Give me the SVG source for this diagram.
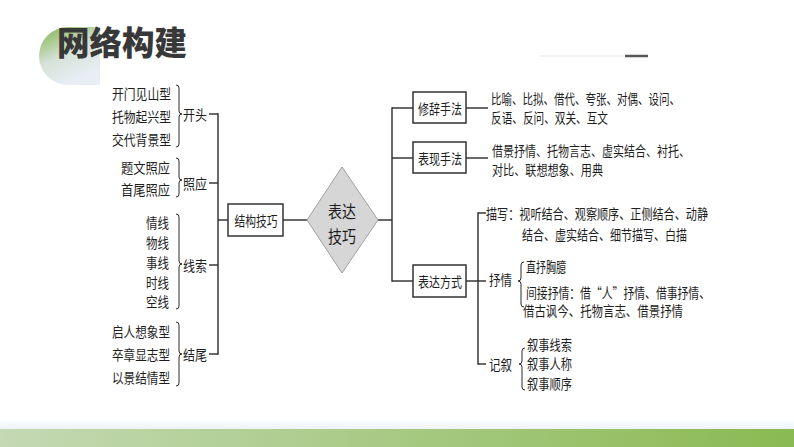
<svg xmlns="http://www.w3.org/2000/svg" width="794" height="447" viewBox="0 0 794 447">
<style>
.t{font-family:"Noto Sans CJK SC","Noto Sans",sans-serif;font-size:14px;fill:#1e1e1e;dominant-baseline:central}
.e{text-anchor:end}
.m{text-anchor:middle}
.ln{stroke:#2a2a2a;stroke-width:1.4;fill:none}
.br{stroke:#2a2a2a;stroke-width:1;fill:none}
.box{fill:#fff;stroke:#333;stroke-width:1.5}
</style>
<defs>
<linearGradient id="gBlob" x1="0" y1="0" x2="0.5" y2="1">
<stop offset="0" stop-color="#7fb24a"/>
<stop offset="0.55" stop-color="#d6e2d8"/>
<stop offset="1" stop-color="#e9eef5"/>
</linearGradient>
<linearGradient id="gBar" x1="0" y1="0" x2="1" y2="0">
<stop offset="0" stop-color="#c4d9b4"/>
<stop offset="1" stop-color="#8aba52"/>
</linearGradient>
<linearGradient id="gFade" x1="0" y1="0" x2="0" y2="1">
<stop offset="0" stop-color="#ffffff"/>
<stop offset="1" stop-color="#eef3f8"/>
</linearGradient>
</defs>
<rect width="794" height="447" fill="#fff"/>

<g id="title">
<path d="M68,27 H100 V85 H68 A29,29 0 0 1 68,27 Z" fill="url(#gBlob)"/>
<text x="57" y="41" style="font-family:'Noto Sans CJK SC',sans-serif;font-size:33px;font-weight:900;fill:#383838;dominant-baseline:central" textLength="130" lengthAdjust="spacingAndGlyphs">网络构建</text>
<line x1="540" y1="56" x2="625" y2="56" stroke="#e6e6e6" stroke-width="1"/>
<line x1="625" y1="56" x2="648" y2="56" stroke="#555" stroke-width="2.5"/>
</g>

<g id="footer">
<rect x="0" y="418" width="794" height="11" fill="url(#gFade)"/>
<rect x="0" y="429" width="794" height="18" fill="url(#gBar)"/>
</g>

<g id="connectors">
<line class="ln" x1="209" y1="114" x2="218" y2="114"/>
<line class="ln" x1="209" y1="183" x2="218" y2="183"/>
<line class="ln" x1="209" y1="265" x2="218" y2="265"/>
<line class="ln" x1="209" y1="354" x2="218" y2="354"/>
<line class="ln" x1="218" y1="113.3" x2="218" y2="354.7"/>
<line class="ln" x1="218" y1="220" x2="228" y2="220"/>
<line class="ln" x1="283" y1="220" x2="307" y2="220"/>
<line class="ln" x1="378" y1="220" x2="392" y2="220"/>
<line class="ln" x1="392" y1="107.3" x2="392" y2="281.7"/>
<line class="ln" x1="392" y1="108" x2="413" y2="108"/>
<line class="ln" x1="392" y1="158" x2="413" y2="158"/>
<line class="ln" x1="392" y1="281" x2="413" y2="281"/>
<line class="ln" x1="466" y1="108" x2="488" y2="108"/>
<line class="ln" x1="466" y1="158" x2="488" y2="158"/>
<line class="ln" x1="466" y1="281" x2="486" y2="281"/>
<line class="ln" x1="478" y1="212.3" x2="478" y2="364.7"/>
<line class="ln" x1="478" y1="213" x2="486" y2="213"/>
<line class="ln" x1="478" y1="364" x2="486" y2="364"/>
</g>

<g id="n-kaitou">
<text class="t e" x="171" y="93" textLength="59" lengthAdjust="spacingAndGlyphs">开门见山型</text>
<text class="t e" x="171" y="116" textLength="59" lengthAdjust="spacingAndGlyphs">托物起兴型</text>
<text class="t e" x="171" y="139" textLength="59" lengthAdjust="spacingAndGlyphs">交代背景型</text>
<path class="br" d="M176,85 q3,0 3,3 V111 q0,3 3,3 q-3,0 -3,3 V144 q0,3 -3,3"/>
<text class="t" x="183" y="114" textLength="24" lengthAdjust="spacingAndGlyphs">开头</text>
</g>

<g id="n-zhaoying">
<text class="t e" x="170" y="167" textLength="49" lengthAdjust="spacingAndGlyphs">题文照应</text>
<text class="t e" x="170" y="189" textLength="49" lengthAdjust="spacingAndGlyphs">首尾照应</text>
<path class="br" d="M176,158 q3,0 3,3 V177 q0,3 3,3 q-3,0 -3,3 V194 q0,3 -3,3"/>
<text class="t" x="183" y="183" textLength="24" lengthAdjust="spacingAndGlyphs">照应</text>
</g>

<g id="n-xiansuo">
<text class="t e" x="169" y="222" textLength="23" lengthAdjust="spacingAndGlyphs">情线</text>
<text class="t e" x="169" y="242" textLength="23" lengthAdjust="spacingAndGlyphs">物线</text>
<text class="t e" x="169" y="262" textLength="23" lengthAdjust="spacingAndGlyphs">事线</text>
<text class="t e" x="169" y="282" textLength="23" lengthAdjust="spacingAndGlyphs">时线</text>
<text class="t e" x="169" y="301" textLength="23" lengthAdjust="spacingAndGlyphs">空线</text>
<path class="br" d="M176,214 q3,0 3,3 V261 q0,3 3,3 q-3,0 -3,3 V306 q0,3 -3,3"/>
<text class="t" x="183" y="265" textLength="24" lengthAdjust="spacingAndGlyphs">线索</text>
</g>

<g id="n-jiewei">
<text class="t e" x="170" y="331" textLength="58" lengthAdjust="spacingAndGlyphs">启人想象型</text>
<text class="t e" x="170" y="354" textLength="58" lengthAdjust="spacingAndGlyphs">卒章显志型</text>
<text class="t e" x="170" y="377" textLength="58" lengthAdjust="spacingAndGlyphs">以景结情型</text>
<path class="br" d="M176,322 q3,0 3,3 V351 q0,3 3,3 q-3,0 -3,3 V383 q0,3 -3,3"/>
<text class="t" x="183" y="354" textLength="24" lengthAdjust="spacingAndGlyphs">结尾</text>
</g>

<g id="n-jiegou">
<rect class="box" x="228" y="204" width="55" height="32"/>
<text class="t m" x="256" y="220" textLength="43" lengthAdjust="spacingAndGlyphs">结构技巧</text>
</g>

<g id="n-center">
<polygon points="307,220 342,167 378,220 342,273" fill="#d6d6d6" stroke="#a0a0a0" stroke-width="1"/>
<text class="t m" x="342" y="210" style="font-size:17px" textLength="28" lengthAdjust="spacingAndGlyphs">表达</text>
<text class="t m" x="342" y="235" style="font-size:17px" textLength="28" lengthAdjust="spacingAndGlyphs">技巧</text>
</g>

<g id="n-xiuci">
<rect class="box" x="413" y="92" width="53" height="31"/>
<text class="t m" x="440" y="108" textLength="44" lengthAdjust="spacingAndGlyphs">修辞手法</text>
<text class="t" x="491" y="98" textLength="189" lengthAdjust="spacingAndGlyphs">比喻、比拟、借代、夸张、对偶、设问、</text>
<text class="t" x="491" y="117" textLength="117" lengthAdjust="spacingAndGlyphs">反语、反问、双关、互文</text>
</g>

<g id="n-biaoxian">
<rect class="box" x="413" y="142" width="53" height="31"/>
<text class="t m" x="440" y="158" textLength="44" lengthAdjust="spacingAndGlyphs">表现手法</text>
<text class="t" x="492" y="150" style="font-size:13.5px" textLength="198" lengthAdjust="spacingAndGlyphs">借景抒情、托物言志、虚实结合、衬托、</text>
<text class="t" x="492" y="168.5" style="font-size:13.5px" textLength="111" lengthAdjust="spacingAndGlyphs">对比、联想想象、用典</text>
</g>

<g id="n-biaoda">
<rect class="box" x="413" y="265" width="53" height="32"/>
<text class="t m" x="440" y="281" textLength="44" lengthAdjust="spacingAndGlyphs">表达方式</text>
</g>

<g id="n-miaoxie">
<text class="t" x="486" y="213" textLength="222" lengthAdjust="spacingAndGlyphs">描写：视听结合、观察顺序、正侧结合、动静</text>
<text class="t" x="522" y="234" textLength="165" lengthAdjust="spacingAndGlyphs">结合、虚实结合、细节描写、白描</text>
</g>

<g id="n-shuqing">
<text class="t" x="489" y="279" textLength="23" lengthAdjust="spacingAndGlyphs">抒情</text>
<path class="br" d="M524,262 q-3,0 -3,3 V278 q0,3 -3,3 q3,0 3,3 V304 q0,3 3,3"/>
<text class="t" x="526" y="266" textLength="40" lengthAdjust="spacingAndGlyphs">直抒胸臆</text>
<text class="t" x="526" y="292" textLength="184" lengthAdjust="spacingAndGlyphs">间接抒情：借“人”抒情、借事抒情、</text>
<text class="t" x="523" y="310" textLength="160" lengthAdjust="spacingAndGlyphs">借古讽今、托物言志、借景抒情</text>
</g>

<g id="n-jixu">
<text class="t" x="489" y="364" textLength="23" lengthAdjust="spacingAndGlyphs">记叙</text>
<path class="br" d="M525,348 q-3,0 -3,3 V361 q0,3 -3,3 q3,0 3,3 V387 q0,3 3,3"/>
<text class="t" x="527" y="344" textLength="45" lengthAdjust="spacingAndGlyphs">叙事线索</text>
<text class="t" x="527" y="363" textLength="45" lengthAdjust="spacingAndGlyphs">叙事人称</text>
<text class="t" x="527" y="383" textLength="45" lengthAdjust="spacingAndGlyphs">叙事顺序</text>
</g>
</svg>
